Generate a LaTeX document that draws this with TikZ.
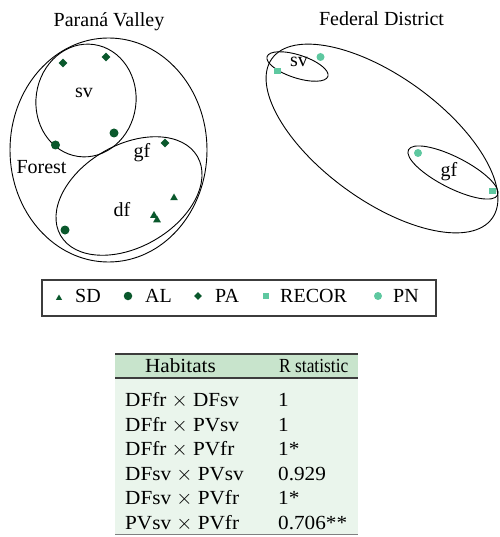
\documentclass[tikz,border=0pt]{standalone}
\usepackage{fontspec}
\setmainfont{Liberation Serif}
\newfontfamily\tabfont[FakeStretch=1.06]{Liberation Serif}
\newfontfamily\narrowfont[FakeStretch=0.87]{Liberation Serif}
\usetikzlibrary{shapes.geometric}
\definecolor{darkmark}{RGB}{10,88,44}
\definecolor{lightmark}{RGB}{94,200,160}
\definecolor{headfill}{RGB}{200,228,204}
\definecolor{bodyfill}{RGB}{234,245,236}
\definecolor{rulegray}{RGB}{60,60,60}
\tikzset{
  lbl/.style={font=\fontsize{20}{24}\selectfont, inner sep=0pt, anchor=base},
  lblw/.style={lbl, anchor=base west},
  cell/.style={font=\tabfont\fontsize{20}{24}\selectfont, inner sep=0pt, anchor=base west},
  ring/.style={draw=black, line width=0.9pt},
  tri/.style={regular polygon, regular polygon sides=3, fill=darkmark, draw=none, inner sep=0pt, minimum size=9pt},
  dot/.style={circle, fill=darkmark, inner sep=0pt, minimum size=9pt},
  dia/.style={diamond, fill=darkmark, inner sep=0pt, minimum size=9pt},
  sq/.style={rectangle, fill=lightmark, inner sep=0pt, minimum size=6.5pt},
  pn/.style={circle, fill=lightmark, inner sep=0pt, minimum size=8pt},
}
\begin{document}
\begin{tikzpicture}[x=1pt, y=-1pt]
\useasboundingbox (0,0) rectangle (499,537);

% ---------- Parana Valley ----------
\node[lbl] (pvtitle) at (109,27) {Paraná Valley};
\draw[ring] (108.5,150) ellipse [x radius=98.5, y radius=112];
\draw[ring, shift={(86,100.5)}, rotate=-8] (0,0) ellipse [x radius=50, y radius=56.5];
\draw[ring, shift={(129,196)}, rotate=30] (0,0) ellipse [x radius=79, y radius=51];
\node[lbl] (pvsv) at (84,98) {sv};
\node[lbl] (pvgf) at (142,158) {gf};
\node[lbl] (pvforest) at (41.5,174) {Forest};
\node[lbl] (pvdf) at (122,216) {df};
\node[dia] (pa1) at (63,63) {};
\node[dia] (pa2) at (106,57) {};
\node[dia] (pa3) at (165,143) {};
\node[dot] (al1) at (55.5,145) {};
\node[dot] (al2) at (114,133) {};
\node[dot] (al3) at (65,230) {};
\node[tri] (sd1) at (174,198) {};
\node[tri] (sd2) at (154,215.5) {};
\node[tri] (sd3) at (157,220) {};

% ---------- Federal District ----------
\node[lbl] (fdtitle) at (381.5,26) {Federal District};
\draw[ring, shift={(382,138.5)}, rotate=-36] (0,0) ellipse [x radius=136, y radius=62];
\draw[ring, shift={(297.5,66.5)}, rotate=-18] (0,0) ellipse [x radius=32, y radius=11.5];
\draw[ring, shift={(453,172.5)}, rotate=-27] (0,0) ellipse [x radius=50, y radius=15.5];
\node[lbl] (fdsv) at (299,67) {sv};
\node[lbl] (fdgf) at (449,177) {gf};
\node[sq] (rc1) at (277.5,71) {};
\node[sq] (rc2) at (492.5,191) {};
\node[pn] (pn1) at (320.5,57) {};
\node[pn] (pn2) at (418,153) {};

% ---------- legend ----------
\draw[draw=rulegray, line width=1.1pt] (42,280) rectangle (436,316);
\node[tri, minimum size=7pt] (lgsd) at (59,298) {};
\node[lblw] (lgsdt) at (75,302) {SD};
\node[dot, minimum size=8.5pt] (lgal) at (128,296) {};
\node[lblw] (lgalt) at (145,302) {AL};
\node[dia, minimum size=8pt] (lgpa) at (198,296) {};
\node[lblw] (lgpat) at (215,302) {PA};
\node[sq] (lgrc) at (266,296) {};
\node[lblw] (lgrct) at (280,302) {RECOR};
\node[pn] (lgpn) at (378,296) {};
\node[lblw] (lgpnt) at (393,302) {PN};

% ---------- table ----------
\fill[headfill] (115,354) rectangle (358,378);
\fill[bodyfill] (115,378) rectangle (358,534);
\draw[rulegray, line width=1.4pt] (115,354) -- (358,354);
\draw[rulegray, line width=1.2pt] (115,378) -- (358,378);
\draw[gray, line width=0.8pt] (115,534) -- (358,534);
\node[cell, anchor=base] (hhab) at (180.5,372) {Habitats};
\node[cell, font=\narrowfont\fontsize{20}{24}\selectfont] (hstat) at (279,372) {R statistic};
\foreach \i/\pair/\val in {0/DFfr $\times$ DFsv/1, 1/DFfr $\times$ PVsv/1, 2/DFfr $\times$ PVfr/1*,
    3/DFsv $\times$ PVsv/0.929, 4/DFsv $\times$ PVfr/1*, 5/PVsv $\times$ PVfr/0.706**} {
  \node[cell] (pair\i) at (125,406.5+24.5*\i) {\pair};
  \node[cell] (val\i) at (278,406.5+24.5*\i) {\val};
}
\end{tikzpicture}
\end{document}
